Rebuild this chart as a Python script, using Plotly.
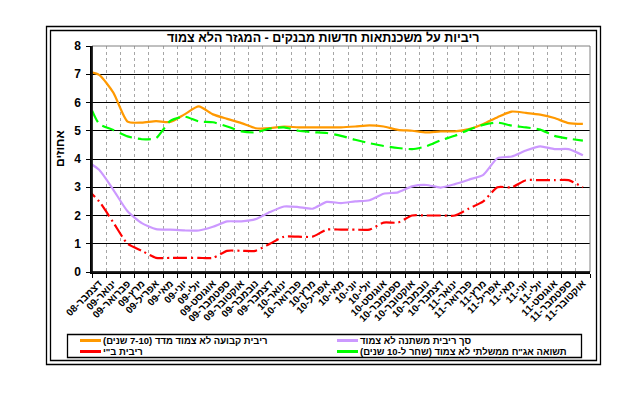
import plotly.graph_objects as go

# ---------------- data ----------------
# first entry (Nov-08) lies just left of the visible axis range; it only shapes the line start
months = ["נובמבר-08", "דצמבר-08", "ינואר-09", "פברואר-09", "מרץ-09", "אפריל-09", "מאי-09",
          "יוני-09", "יולי-09", "אוגוסט-09", "ספטמבר-09", "אוקטובר-09", "נובמבר-09",
          "דצמבר-09", "ינואר-10", "פברואר-10", "מרץ-10", "אפריל-10", "מאי-10", "יוני-10",
          "יולי-10", "אוגוסט-10", "ספטמבר-10", "אוקטובר-10", "נובמבר-10", "דצמבר-10",
          "ינואר-11", "פברואר-11", "מרץ-11", "אפריל-11", "מאי-11", "יוני-11", "יולי-11",
          "אוגוסט-11", "ספטמבר-11", "אוקטובר-11"]

fixed_rate = [7.12, 6.98, 6.35, 5.32, 5.29, 5.34, 5.31, 5.58, 5.86, 5.58, 5.42, 5.27, 5.09,
              5.09, 5.15, 5.12, 5.12, 5.12, 5.12, 5.15, 5.19, 5.15, 5.03, 5.00, 4.94, 4.98,
              4.98, 5.06, 5.24, 5.48, 5.68, 5.63, 5.57, 5.45, 5.27, 5.24]

variable_rate = [3.96, 3.62, 2.91, 2.15, 1.73, 1.52, 1.50, 1.47, 1.47, 1.60, 1.79, 1.79, 1.87,
                 2.12, 2.32, 2.30, 2.24, 2.48, 2.44, 2.50, 2.54, 2.77, 2.82, 3.03, 3.08, 2.99,
                 3.11, 3.27, 3.44, 4.03, 4.09, 4.30, 4.45, 4.35, 4.35, 4.13]

boi_rate = [3.00, 2.50, 1.75, 1.00, 0.75, 0.50, 0.50, 0.50, 0.50, 0.50, 0.75, 0.75, 0.75,
            1.00, 1.25, 1.25, 1.25, 1.50, 1.50, 1.50, 1.50, 1.75, 1.75, 2.00, 2.00, 2.00,
            2.00, 2.25, 2.50, 3.00, 3.00, 3.25, 3.25, 3.25, 3.25, 3.00]

bond_yield = [6.35, 5.25, 5.03, 4.80, 4.70, 4.74, 5.35, 5.50, 5.33, 5.30, 5.15, 4.98, 4.94,
              5.08, 5.12, 5.00, 4.95, 4.92, 4.82, 4.68, 4.56, 4.46, 4.39, 4.35, 4.45, 4.66,
              4.82, 5.04, 5.21, 5.29, 5.18, 5.12, 5.04, 4.82, 4.72, 4.65]

series_names = ["ריבית קבועה לא צמוד מדד (7-10 שנים)\u200f",
                "סך ריבית משתנה לא צמוד",
                "ריבית ב\"י",
                "תשואה אג\"ח ממשלתי לא צמוד (שחר ל-10 שנים)\u200f"]
series_values = [fixed_rate, variable_rate, boi_rate, bond_yield]
series_colors = ["#FF9900", "#CC99FF", "#FF0000", "#00FF00"]
series_dash = ["solid", "solid", "14px,4px,2px,4px", "13px,6px"]

title_text = "ריביות על משכנתאות חדשות מבנקים - המגזר הלא צמוד"
y_title = "אחוזים"
y_ticks = [0, 1, 2, 3, 4, 5, 6, 7, 8]

FONT = "Arial, 'Liberation Sans', 'DejaVu Sans', sans-serif"

# ---------------- geometry ----------------
W, H = 644, 394
L, R, T, B = 92, 54, 46, 122
PW, PH = W - L - R, H - T - B


def px(x):
    return (x - L) / PW


def py(y):
    return (H - B - y) / PH


fig = go.Figure()
for name, vals, col, dash in zip(series_names, series_values, series_colors, series_dash):
    fig.add_trace(go.Scatter(
        x=months, y=vals, name=name, mode="lines",
        line=dict(color=col, width=2.2, dash=dash, shape="spline", smoothing=0.6),
        showlegend=False, hoverinfo="skip"))

shapes = []
# plot-area border (grey) on top/right
shapes.append(dict(type="rect", xref="paper", yref="paper", x0=0, x1=1, y0=0, y1=1,
                   line=dict(color="#808080", width=1), layer="above"))
# redraw black axes lines
shapes.append(dict(type="line", xref="paper", yref="paper", x0=0, x1=0, y0=0, y1=1,
                   line=dict(color="black", width=1.5), layer="above"))
shapes.append(dict(type="line", xref="paper", yref="paper", x0=0, x1=1, y0=0, y1=0,
                   line=dict(color="black", width=1.5), layer="above"))
# chart frames (double border)
shapes.append(dict(type="rect", xref="paper", yref="paper",
                   x0=px(46.5), x1=px(600.5), y0=py(364.5), y1=py(26.5),
                   line=dict(color="black", width=1.3)))
shapes.append(dict(type="rect", xref="paper", yref="paper",
                   x0=px(50.5), x1=px(596.5), y0=py(360.5), y1=py(30.5),
                   line=dict(color="black", width=1.3)))
# legend box
shapes.append(dict(type="rect", xref="paper", yref="paper",
                   x0=px(67.5), x1=px(581.5), y0=py(357.5), y1=py(334.5),
                   line=dict(color="black", width=1.3)))

annotations = [
    dict(text=f"<b>{title_text}</b>", xref="paper", yref="paper", x=px(323), y=py(38),
         showarrow=False, xanchor="center", yanchor="middle",
         font=dict(family=FONT, size=12.5, color="black")),
    dict(text=f"<b>{y_title}</b>", xref="paper", yref="paper", x=px(60), y=py(149),
         showarrow=False, xanchor="center", yanchor="middle", textangle=-90,
         font=dict(family=FONT, size=12, color="black")),
]

# legend entries: (column x of symbol start, row y)
leg_pos = [(80, 340.5), (337, 340.5), (80, 351.5), (337, 351.5)]
for (lx, ly), name, col, dash in zip(leg_pos, series_names, series_colors, series_dash):
    shapes.append(dict(type="line", xref="paper", yref="paper",
                       x0=px(lx), x1=px(lx + 21), y0=py(ly), y1=py(ly),
                       line=dict(color=col, width=3)))
    annotations.append(dict(text=f"<b>{name}</b>", xref="paper", yref="paper",
                            x=px(lx + 22), y=py(ly), showarrow=False,
                            xanchor="left", yanchor="middle", borderpad=0,
                            font=dict(family=FONT, size=9.5, color="black")))

fig.update_layout(
    width=W, height=H,
    margin=dict(l=L, r=R, t=T, b=B),
    paper_bgcolor="white", plot_bgcolor="white",
    showlegend=False,
    font=dict(family=FONT, color="black"),
    shapes=shapes, annotations=annotations,
    xaxis=dict(type="category", categoryorder="array", categoryarray=months,
               range=[0.5, len(months) - 0.5], tickson="boundaries",
               ticks="outside", ticklen=4, tickcolor="black", tickwidth=1,
               tickangle=-45, tickfont=dict(family=FONT, size=10, color="black"),
               showgrid=True, gridcolor="#A6A6A6", gridwidth=1, griddash="3px,3px",
               showline=True, linecolor="black", linewidth=1.5, zeroline=False,
               fixedrange=True),
    yaxis=dict(range=[0, 8], tickvals=y_ticks, ticktext=[f"<b>{v}</b>" for v in y_ticks],
               ticks="outside", ticklen=4, tickcolor="black", tickwidth=1,
               tickfont=dict(family=FONT, size=12, color="black"), ticklabelstandoff=3,
               showgrid=True, gridcolor="black", gridwidth=1,
               showline=True, linecolor="black", linewidth=1.5, zeroline=False,
               fixedrange=True),
)
fig.update_xaxes(ticktext=[f"<b>{m}</b>" for m in months], tickvals=months)

fig.write_html("out.html", config={"displayModeBar": False},
               post_script="document.body.style.margin='0';document.body.style.overflow='hidden';")
